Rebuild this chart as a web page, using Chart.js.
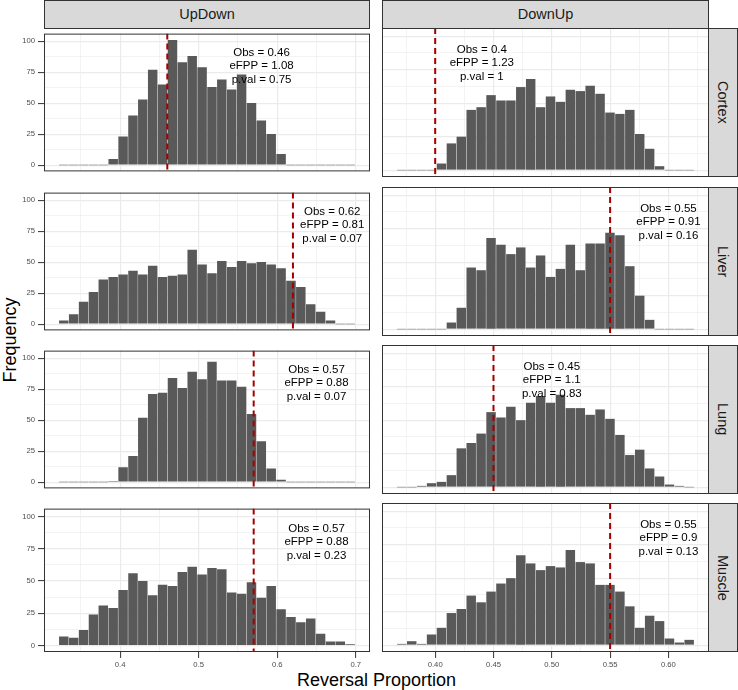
<!DOCTYPE html>
<html>
<head>
<meta charset="utf-8">
<script src="https://cdn.jsdelivr.net/npm/chart.js@4.4.0/dist/chart.umd.min.js"></script>
<style>
  body { margin: 0; background: #fff; }
  #wrap { position: relative; width: 738px; height: 690px; overflow: hidden;
          font-family: "Liberation Sans", Arial, sans-serif; }
  .panel { position: absolute; }
  .strip-top { position: absolute; top: 0; height: 29px; box-sizing: border-box;
               background: #D9D9D9; border: 1px solid #333; color: #1A1A1A;
               font-size: 14.5px; line-height: 27px; text-align: center; }
  .strip-right { position: absolute; left: 708px; width: 30px; box-sizing: border-box;
                 background: #D9D9D9; border: 1px solid #333; color: #1A1A1A;
                 font-size: 14.5px; line-height: 28px; text-align: center;
                 writing-mode: vertical-rl; }
  .xtitle { position: absolute; left: 44px; width: 665px; top: 670px; text-align: center;
            font-size: 18px; line-height: 20px; color: #000; }
  .ytitle { position: absolute; left: 10px; top: 340px; white-space: nowrap;
            transform: translate(-50%, -50%) rotate(-90deg);
            font-size: 18px; line-height: 18px; color: #000; }
</style>
</head>
<body>
<div id="wrap">
  <div class="xtitle">Reversal Proportion</div>
  <div class="ytitle">Frequency</div>
</div>
<script>
const tissues = ["Cortex", "Liver", "Lung", "Muscle"];
const directions = ["UpDown", "DownUp"];

// bin centres (30 bins per column)
const upDownBins = [0.3282, 0.3408, 0.3534, 0.3660, 0.3785, 0.3911, 0.4037, 0.4163, 0.4288, 0.4414,
                    0.4540, 0.4666, 0.4791, 0.4917, 0.5043, 0.5169, 0.5294, 0.5420, 0.5546, 0.5672,
                    0.5797, 0.5923, 0.6049, 0.6175, 0.6300, 0.6426, 0.6552, 0.6678, 0.6803, 0.6929];
const downUpBins = [0.3714, 0.3799, 0.3884, 0.3969, 0.4054, 0.4139, 0.4224, 0.4309, 0.4394, 0.4479,
                    0.4564, 0.4649, 0.4734, 0.4819, 0.4904, 0.4989, 0.5074, 0.5159, 0.5244, 0.5329,
                    0.5414, 0.5499, 0.5584, 0.5669, 0.5754, 0.5839, 0.5924, 0.6009, 0.6094, 0.6178];

// counts
const upDownCortex = [0, 0, 0, 0, 0, 5, 23, 40, 53, 77, 65, 101, 83, 88, 79, 63, 69, 61, 73, 50, 36, 25, 9, 0, 0, 0, 0, 0, 0, 0];
const upDownLiver  = [3, 8, 18, 26, 36, 38, 40, 43, 40, 47, 38, 39, 40, 60, 48, 41, 51, 46, 51, 49, 50, 48, 45, 35, 30, 16, 10, 3, 0, 0];
const upDownLung   = [0, 0, 0, 0, 0, 1, 12, 21, 52, 71, 72, 84, 76, 89, 83, 97, 82, 82, 77, 55, 33, 11, 2, 0, 0, 0, 0, 0, 0, 0];
const upDownMuscle = [7, 6, 12, 24, 31, 29, 43, 56, 50, 39, 47, 46, 57, 61, 55, 60, 59, 41, 40, 49, 37, 46, 28, 22, 18, 21, 9, 3, 3, 1];
const downUpCortex = [0, 0, 0, 0, 5, 20, 25, 45, 47, 56, 52, 52, 62, 68, 47, 55, 51, 60, 59, 63, 57, 43, 42, 45, 27, 16, 3, 0, 0, 0];
const downUpLiver  = [0, 0, 0, 0, 0, 5, 16, 46, 44, 68, 63, 56, 61, 46, 55, 39, 45, 63, 44, 64, 64, 72, 70, 47, 25, 7, 0, 0, 0, 0];
const downUpLung   = [0, 0, 1, 3, 4, 9, 29, 33, 40, 56, 52, 60, 50, 63, 68, 63, 69, 59, 59, 54, 58, 51, 39, 24, 28, 14, 8, 2, 1, 0];
const downUpMuscle = [1, 3, 1, 8, 13, 24, 27, 37, 32, 40, 46, 50, 67, 61, 56, 59, 58, 71, 62, 61, 45, 45, 40, 29, 13, 22, 18, 5, 2, 4];

// observed values and annotations
const upDownObs  = [0.46, 0.62, 0.57, 0.57];
const downUpObs  = [0.4, 0.55, 0.45, 0.55];
const upDownEFPP = ["1.08", "0.81", "0.88", "0.88"];
const downUpEFPP = ["1.23", "0.91", "1.1", "0.9"];
const upDownPval = ["0.75", "0.07", "0.07", "0.23"];
const downUpPval = ["1", "0.16", "0.83", "0.13"];
const upDownLabelX = [0.58, 0.67, 0.65, 0.65];
const downUpLabelX = [0.44, 0.60, 0.50, 0.60];
const labelY = 80;

// axes
const yTicks = [0, 25, 50, 75, 100];
const yMinor = [12.5, 37.5, 62.5, 87.5];
const yRange = [-5.05, 106.05];
const upDownTicks = [0.4, 0.5, 0.6, 0.7];
const upDownTickLabels = ["0.4", "0.5", "0.6", "0.7"];
const upDownMinor = [0.35, 0.45, 0.55, 0.65];
const upDownRange = [0.3030, 0.7181];
const downUpTicks = [0.40, 0.45, 0.50, 0.55, 0.60];
const downUpTickLabels = ["0.40", "0.45", "0.50", "0.55", "0.60"];
const downUpMinor = [0.375, 0.425, 0.475, 0.525, 0.575, 0.625];
const downUpRange = [0.3544, 0.6348];

const columns = [
  { bins: upDownBins, counts: [upDownCortex, upDownLiver, upDownLung, upDownMuscle],
    ticks: upDownTicks, tickLabels: upDownTickLabels, minor: upDownMinor, range: upDownRange,
    obs: upDownObs, efpp: upDownEFPP, pval: upDownPval, labelX: upDownLabelX },
  { bins: downUpBins, counts: [downUpCortex, downUpLiver, downUpLung, downUpMuscle],
    ticks: downUpTicks, tickLabels: downUpTickLabels, minor: downUpMinor, range: downUpRange,
    obs: downUpObs, efpp: downUpEFPP, pval: downUpPval, labelX: downUpLabelX }
];

const FONT = '"Liberation Sans", Arial, sans-serif';
const panelTops = [28, 187, 345, 503];
const panelH = 149;
const colLeft = [44, 382];
const colRight = [370, 709];

const isIn = (arr, v) => arr.some(t => Math.abs(t - v) < 1e-9);

const panelDecor = {
  id: 'panelDecor',
  afterDatasetsDraw(chart, args, opts) {
    const { ctx, chartArea: a, scales: { x, y } } = chart;
    ctx.save();
    ctx.beginPath();
    ctx.rect(a.left, a.top, a.width, a.height);
    ctx.clip();
    // observed value
    const px = x.getPixelForValue(opts.obs);
    ctx.strokeStyle = '#A50000';
    ctx.lineWidth = 2;
    ctx.setLineDash([6, 4]);
    ctx.beginPath();
    ctx.moveTo(px, a.top);
    ctx.lineTo(px, a.bottom);
    ctx.stroke();
    ctx.setLineDash([]);
    // label
    ctx.fillStyle = '#000';
    ctx.font = '11.5px ' + FONT;
    ctx.textAlign = 'center';
    ctx.textBaseline = 'middle';
    const tx = x.getPixelForValue(opts.labelX);
    const ty = y.getPixelForValue(opts.labelY);
    opts.lines.forEach((l, i) => ctx.fillText(l, tx, ty + (i - 1) * 13.5));
    ctx.restore();
  },
  afterDraw(chart) {
    const { ctx, chartArea: a } = chart;
    ctx.save();
    ctx.strokeStyle = '#333';
    ctx.lineWidth = 1;
    ctx.strokeRect(a.left + 0.5, a.top + 0.5, a.width - 1, a.height - 1);
    ctx.restore();
  }
};

const wrap = document.getElementById('wrap');

// strips
directions.forEach((d, c) => {
  const s = document.createElement('div');
  s.className = 'strip-top';
  s.style.left = colLeft[c] + 'px';
  s.style.width = (colRight[c] - colLeft[c]) + 'px';
  s.textContent = d;
  wrap.appendChild(s);
});
tissues.forEach((t, r) => {
  const s = document.createElement('div');
  s.className = 'strip-right';
  s.style.top = panelTops[r] + 'px';
  s.style.height = panelH + 'px';
  s.textContent = t;
  wrap.appendChild(s);
});

columns.forEach((col, c) => {
  tissues.forEach((tissue, r) => {
    const bottom = r === tissues.length - 1;
    const left = c === 0 ? 0 : colLeft[1] - 2;
    const div = document.createElement('div');
    div.className = 'panel';
    div.style.left = left + 'px';
    div.style.top = (panelTops[r] - 2) + 'px';
    div.style.width = (colRight[c] + 2 - left) + 'px';
    div.style.height = (panelH + 2 + (bottom ? 30 : 2)) + 'px';
    const canvas = document.createElement('canvas');
    div.appendChild(canvas);
    wrap.appendChild(div);

    const counts = col.counts[r];
    new Chart(canvas, {
      type: 'bar',
      data: {
        datasets: [{
          data: col.bins.map((x, i) => ({ x: x, y: counts[i] })),
          backgroundColor: ctx => (ctx.raw && ctx.raw.y === 0) ? '#A8A8A8' : '#595959',
          barPercentage: 0.965,
          categoryPercentage: 1,
          minBarLength: 1
        }]
      },
      options: {
        responsive: true,
        maintainAspectRatio: false,
        animation: false,
        devicePixelRatio: 1,
        events: [],
        layout: {
          autoPadding: false,
          padding: { left: c === 0 ? 0 : 2, right: 2, top: 2, bottom: bottom ? 0 : 2 }
        },
        plugins: {
          legend: { display: false },
          tooltip: { enabled: false },
          panelDecor: {
            obs: col.obs[r],
            labelX: col.labelX[r],
            labelY: labelY,
            lines: ['Obs = ' + col.obs[r], 'eFPP = ' + col.efpp[r], 'p.val = ' + col.pval[r]]
          }
        },
        scales: {
          x: {
            type: 'linear',
            min: col.range[0],
            max: col.range[1],
            offset: false,
            border: { display: false },
            grid: {
              offset: false,
              color: '#EBEBEB',
              lineWidth: ctx => isIn(col.ticks, ctx.tick.value) ? 1.2 : 0.6,
              drawTicks: bottom,
              tickLength: 6,
              tickWidth: 1,
              tickColor: ctx => isIn(col.ticks, ctx.tick.value) ? '#333' : 'rgba(0,0,0,0)'
            },
            ticks: {
              display: bottom,
              autoSkip: false,
              maxRotation: 0,
              padding: 2,
              color: '#4D4D4D',
              font: { size: 7.7, family: FONT },
              callback: v => {
                const i = col.ticks.findIndex(t => Math.abs(t - v) < 1e-9);
                return i >= 0 ? col.tickLabels[i] : '';
              }
            },
            afterBuildTicks: s => {
              s.ticks = col.ticks.concat(col.minor).sort((a, b) => a - b).map(v => ({ value: v }));
            },
            afterFit: s => { s.height = bottom ? 30 : 0; }
          },
          y: {
            min: yRange[0],
            max: yRange[1],
            border: { display: false },
            grid: {
              color: '#EBEBEB',
              lineWidth: ctx => isIn(yTicks, ctx.tick.value) ? 1.2 : 0.6,
              drawTicks: c === 0,
              tickLength: 6,
              tickWidth: 1,
              tickColor: ctx => isIn(yTicks, ctx.tick.value) ? '#333' : 'rgba(0,0,0,0)'
            },
            ticks: {
              display: c === 0,
              padding: 3,
              color: '#4D4D4D',
              font: { size: 7.7, family: FONT },
              callback: v => isIn(yTicks, v) ? String(v) : ''
            },
            afterBuildTicks: s => {
              s.ticks = yTicks.concat(yMinor).sort((a, b) => a - b).map(v => ({ value: v }));
            },
            afterFit: s => { s.width = c === 0 ? 44 : 0; }
          }
        }
      },
      plugins: [panelDecor]
    });
  });
});
</script>
</body>
</html>
